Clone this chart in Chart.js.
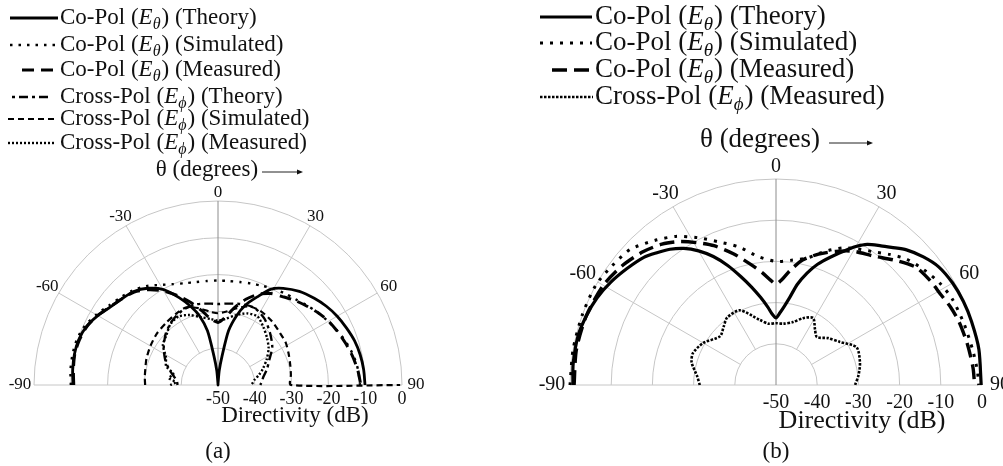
<!DOCTYPE html>
<html lang="en">
<head>
<meta charset="UTF-8" />
<title>Directivity patterns</title>
<script src="https://cdn.jsdelivr.net/npm/chart.js"></script>
<style>
  html, body { margin: 0; padding: 0; background: #fff; }
  #wrap { position: relative; width: 1003px; height: 466px; }
  canvas { position: absolute; top: 0; }
  #chartA { left: 0; }
  #chartB { left: 501px; }
</style>
</head>
<body>
<div id="wrap">
  <canvas id="chartA" width="501" height="466"></canvas>
  <canvas id="chartB" width="502" height="466"></canvas>
</div>
<script>
// ---- data: [theta (deg), directivity (dB)] ----

// (a)
const aCoTheory = [[-90,-10.6],[-84,-10.3],[-78,-10.1],[-72,-10.2],[-66,-10.9],[-60,-12.3],[-54,-13.9],[-48,-14.9],[-42,-15.8],[-36,-17.5],[-30,-20],[-24,-24],[-19,-27.5],[-15,-30.5],[-11,-35],[-8,-42],[-5,-46],[-2,-49.5],[0,-60],
  [2,-49.5],[5,-46],[8,-42],[11,-35],[15,-30.5],[19,-27],[24,-23.8],[29,-20.2],[34,-18.3],[41,-16.3],[48,-14.8],[54,-13.6],[60,-12.6],[66,-11.8],[72,-11],[78,-10.5],[84,-10.2],[90,-10.05]];
const aCoSimulated = [[-90,-10],[-84,-9.7],[-78,-9.6],[-72,-9.7],[-66,-10.4],[-60,-11.8],[-54,-13.3],[-48,-14.4],[-42,-15.4],[-36,-16.8],[-30,-18.6],[-24,-20],[-18,-20.9],[-12,-21.4],[-6,-21.6],[0,-21.6],
  [6,-21.6],[12,-21.4],[18,-21],[24,-20.5],[30,-19.8],[36,-19.2],[42,-18.6],[48,-17.6],[54,-16.5],[60,-15.4],[66,-14.3],[72,-13.2],[78,-12.3],[84,-11.7],[90,-11.4]];
const aCoMeasured = [[-90,-10.8],[-84,-10.5],[-78,-10.2],[-72,-10.4],[-66,-11],[-60,-12.2],[-54,-13.8],[-48,-15],[-42,-16],[-36,-18],[-30,-20.5],[-24,-23.5],[-18,-26.5],[-12,-29.5],[-6,-32],[0,-33],
  [6,-31.5],[12,-28.5],[18,-25.5],[24,-23],[30,-21.3],[36,-20.3],[42,-19],[48,-17.8],[54,-16.5],[60,-15.3],[66,-14.4],[72,-13.5],[78,-12.6],[84,-11.8],[90,-11.2]];
const aCrossTheory = [[-90,-39],[-85,-38.8],[-80,-38],[-72,-36],[-64,-34],[-55,-32],[-45,-30],[-35,-28.5],[-25,-27.5],[-15,-27.3],[-5,-27.8],[0,-28],
  [5,-27.8],[15,-27.2],[25,-26.8],[35,-28],[45,-30],[55,-32],[64,-34.5],[72,-36],[80,-37.5],[85,-38],[90,-38.5]];
const aCrossSimulated = [[-90,-30.2],[-84,-30],[-78,-29.8],[-70,-29.3],[-60,-28.8],[-50,-28.3],[-40,-28],[-30,-27.5],[-22,-27.2],[-14,-28.5],[-6,-30],[0,-30.5],
  [6,-30],[14,-28.5],[22,-27],[30,-26.8],[40,-27.3],[50,-28],[58,-28.3],[66,-29],[74,-29.6],[82,-30],[90,-30.2],[90,-0.5]];
const aCrossMeasured = [[-90,-37],[-86,-38.5],[-82,-36.5],[-76,-37.5],[-70,-35],[-62,-34],[-54,-31.5],[-46,-30.5],[-38,-29],[-30,-28.5],[-22,-29.5],[-14,-31],[-6,-32],[0,-32.5],
  [6,-32],[14,-30.5],[22,-29],[30,-28.5],[38,-30],[46,-31.5],[54,-33],[62,-35],[70,-37],[76,-38.5],[82,-40],[86,-40.5],[90,-41]];

// (b)
const bCoTheory = [[-90,-0.7],[-84,-0.5],[-76,-0.5],[-70,-1],[-64,-1.7],[-58,-2.8],[-52,-4.1],[-46,-5.4],[-42,-6.8],[-38,-8.2],[-34,-10],[-30,-12.4],[-26,-15.3],[-22,-18.7],[-18,-22.3],[-14,-25.5],[-10,-28.4],[-6,-31],[-3,-32.8],[0,-33.7],
  [3,-32.5],[6,-30.8],[9,-28.4],[12,-25],[15.5,-21.8],[19,-19],[23,-16.3],[27,-13.5],[30,-11.2],[33,-9.3],[37,-7.7],[40,-6.4],[44,-4.4],[49,-2.6],[54,-1.2],[60,-0.5],[66,-0.2],[72,-0.1],[80,0],[90,-0.2]];
const bCoSimulated = [[-90,0],[-80,0],[-70,0],[-61,0],[-54,-0.8],[-47,-1.7],[-40,-4.2],[-34,-6.5],[-28,-9.5],[-22,-12.5],[-15,-15.3],[-8,-18.5],[0,-20],
  [7,-19.5],[14,-18.2],[20,-15.5],[26,-13],[31,-11.5],[36,-10],[41,-8],[46,-6],[52,-4.5],[58,-3.2],[64,-2.4],[72,-2],[80,-1.5],[86,-1],[90,-0.8]];
const bCoMeasured = [[-90,-1],[-80,-0.8],[-70,-1],[-60,-1.6],[-52,-2.8],[-45,-4.3],[-39,-6],[-34,-8],[-29,-10.5],[-24,-13],[-18,-16.5],[-12,-20],[-7,-22.5],[-3,-24.5],[0,-25.5],
  [3,-24.5],[7,-22],[12,-19],[18,-16.6],[24,-14.5],[30,-12.5],[37,-10.8],[44,-8],[50,-5.6],[56,-4.8],[61,-4.4],[66,-3.6],[71,-3],[78,-2.5],[85,-2],[90,-1.8]];
const bCrossMeasured = [[-90,-31.5],[-84,-30.8],[-75,-28.8],[-69,-28.4],[-60,-29.6],[-49,-32],[-42,-31],[-36,-29.8],[-26,-29.8],[-14,-33.7],[-7,-35],[0,-35],
  [7,-35],[15,-34.2],[22,-32.5],[29,-31.4],[35,-33.5],[40.5,-34.7],[48,-33],[56,-31.3],[65,-28.4],[75,-28.9],[83,-29.8],[90,-30.8]];

// axes
const dbTicks = [-50, -40, -30, -20, -10, 0];
const angleTicks = [-90, -60, -30, 0, 30, 60, 90];
const DB_MIN = -50;

// legend text: [polarisation, field subscript, source]
const legendA = [['Co-Pol', 'θ', 'Theory'], ['Co-Pol', 'θ', 'Simulated'], ['Co-Pol', 'θ', 'Measured'],
                 ['Cross-Pol', 'ϕ', 'Theory'], ['Cross-Pol', 'ϕ', 'Simulated'], ['Cross-Pol', 'ϕ', 'Measured']];
const legendB = [['Co-Pol', 'θ', 'Theory'], ['Co-Pol', 'θ', 'Simulated'], ['Co-Pol', 'θ', 'Measured'],
                 ['Cross-Pol', 'ϕ', 'Measured']];

const SERIF = '"Liberation Serif", "Times New Roman", serif';

// theta measured from broadside, radius = level above the -50 dB floor
function polarPoints(pairs) {
  return pairs.map(([t, db]) => {
    const r = Math.max(0, db - DB_MIN);
    const a = t * Math.PI / 180;
    return { x: r * Math.sin(a), y: r * Math.cos(a) };
  });
}

function curve(pairs, width, dash, cap) {
  return {
    data: polarPoints(pairs),
    showLine: true,
    borderColor: '#000',
    borderWidth: width,
    borderDash: dash,
    borderCapStyle: cap || 'butt',
    pointRadius: 0,
    tension: 0.25,
    clip: false
  };
}

function drawLabel(ctx, x, y, parts, size) {
  const [pol, sub, kind] = parts;
  const normal = `${size}px ${SERIF}`;
  ctx.textAlign = 'left';
  ctx.textBaseline = 'middle';
  ctx.font = normal;
  let s = pol + ' (';
  ctx.fillText(s, x, y);
  x += ctx.measureText(s).width;
  ctx.font = `italic ${size}px ${SERIF}`;
  ctx.fillText('E', x, y);
  x += ctx.measureText('E').width;
  ctx.font = `italic ${Math.round(size * 0.7)}px ${SERIF}`;
  ctx.fillText(sub, x, y + size * 0.28);
  x += ctx.measureText(sub).width + 1;
  ctx.font = normal;
  ctx.fillText(') (' + kind + ')', x, y);
}

function framePlugin(cfg) {
  return {
    id: 'polarFrame',
    beforeDatasetsDraw(chart) {
      const { ctx, scales } = chart;
      const cx = scales.x.getPixelForValue(0);
      const cy = scales.y.getPixelForValue(0);
      const rad = db => scales.x.getPixelForValue(db - DB_MIN) - cx;
      const R = rad(0);
      ctx.save();
      ctx.lineWidth = 1;
      ctx.strokeStyle = '#c6c6c6';
      dbTicks.slice(1).forEach(v => {
        ctx.beginPath();
        ctx.arc(cx, cy, rad(v), Math.PI, 2 * Math.PI);
        ctx.stroke();
      });
      ctx.beginPath();
      ctx.moveTo(cx - R, cy);
      ctx.lineTo(cx + R, cy);
      ctx.stroke();
      const r0 = rad(dbTicks[1]);
      angleTicks.filter(t => t !== 0 && Math.abs(t) !== 90).forEach(t => {
        const a = t * Math.PI / 180;
        ctx.beginPath();
        ctx.moveTo(cx + r0 * Math.sin(a), cy - r0 * Math.cos(a));
        ctx.lineTo(cx + R * Math.sin(a), cy - R * Math.cos(a));
        ctx.stroke();
      });
      ctx.strokeStyle = '#8c8c8c';
      ctx.beginPath();
      ctx.moveTo(cx, cy);
      ctx.lineTo(cx, cy - R);
      ctx.stroke();
      ctx.restore();
    },
    afterDraw(chart) {
      const { ctx, scales } = chart;
      const cx = scales.x.getPixelForValue(0);
      const cy = scales.y.getPixelForValue(0);
      const rad = db => scales.x.getPixelForValue(db - DB_MIN) - cx;
      const R = rad(0);
      ctx.save();
      ctx.fillStyle = '#111';

      // angle labels round the rim, pushed further out towards the sides
      ctx.font = `${cfg.angleFont}px ${SERIF}`;
      ctx.textAlign = 'center';
      ctx.textBaseline = 'middle';
      angleTicks.forEach(t => {
        const a = t * Math.PI / 180;
        const rr = R + cfg.angleGap + 6 * Math.abs(Math.sin(a));
        ctx.fillText(String(t), cx + rr * Math.sin(a), cy - rr * Math.cos(a));
      });

      // dB scale under the right half of the baseline
      ctx.font = `${cfg.tickFont}px ${SERIF}`;
      dbTicks.forEach(v => ctx.fillText(String(v), cx + rad(v), cy + cfg.tickGap));
      ctx.font = `${cfg.titleFont}px ${SERIF}`;
      ctx.fillText('Directivity (dB)', cfg.title[0], cfg.title[1]);

      // theta direction label with arrow
      ctx.font = `${cfg.thetaFont}px ${SERIF}`;
      ctx.fillText('θ (degrees)', cfg.theta[0], cfg.theta[1]);
      const [ax0, ax1, ay] = cfg.arrow;
      ctx.strokeStyle = '#222';
      ctx.lineWidth = 1;
      ctx.beginPath();
      ctx.moveTo(ax0, ay);
      ctx.lineTo(ax1 - 4, ay);
      ctx.stroke();
      ctx.beginPath();
      ctx.moveTo(ax1, ay);
      ctx.lineTo(ax1 - 6, ay - 2.5);
      ctx.lineTo(ax1 - 6, ay + 2.5);
      ctx.closePath();
      ctx.fill();

      // caption
      ctx.font = `${cfg.captionFont}px ${SERIF}`;
      ctx.fillText(cfg.caption, cfg.captionPos[0], cfg.captionPos[1]);

      // legend
      cfg.legend.forEach((parts, i) => {
        const ds = chart.data.datasets[i];
        const [x0, x1] = cfg.samples[i];
        const y = cfg.rows[i];
        ctx.save();
        ctx.strokeStyle = '#000';
        ctx.lineWidth = ds.borderWidth;
        ctx.lineCap = ds.borderCapStyle;
        ctx.setLineDash(ds.borderDash);
        ctx.beginPath();
        ctx.moveTo(x0, y);
        ctx.lineTo(x1, y);
        ctx.stroke();
        ctx.restore();
        drawLabel(ctx, cfg.textX, y, parts, cfg.legendFont);
      });
      ctx.restore();
    }
  };
}

function makePolar(id, datasets, cfg) {
  const canvas = document.getElementById(id);
  const W = canvas.width, H = canvas.height;
  const k = cfg.pxPerDb;
  return new Chart(canvas, {
    type: 'scatter',
    data: { datasets },
    options: {
      responsive: false,
      animation: false,
      events: [],
      layout: { padding: 0 },
      plugins: { legend: { display: false }, tooltip: { enabled: false } },
      scales: {
        x: { type: 'linear', display: false, min: -cfg.cx / k, max: (W - cfg.cx) / k },
        y: { type: 'linear', display: false, min: -(H - cfg.cy) / k, max: cfg.cy / k }
      }
    },
    plugins: [framePlugin(cfg)]
  });
}

makePolar('chartA', [
  curve(aCoTheory, 2.8, []),
  curve(aCoSimulated, 2.4, [2.5, 6]),
  curve(aCoMeasured, 3, [12, 7]),
  curve(aCrossTheory, 2.4, [3, 4, 9, 4]),
  curve(aCrossSimulated, 2.2, [6, 4]),
  curve(aCrossMeasured, 2.4, [2, 2])
], {
  cx: 218, cy: 385, pxPerDb: 3.68,
  angleFont: 17, angleGap: 8,
  tickFont: 18, tickGap: 14,
  titleFont: 23, title: [295, 416],
  thetaFont: 23, theta: [207, 170], arrow: [262, 303, 172],
  captionFont: 23, caption: '(a)', captionPos: [218, 452],
  legend: legendA, legendFont: 23, textX: 60,
  rows: [18, 45, 70, 97, 119, 143],
  samples: [[10, 58], [10, 58], [22, 55], [12, 50], [8, 58], [8, 54]]
});

makePolar('chartB', [
  curve(bCoTheory, 3.2, []),
  curve(bCoSimulated, 3, [3, 7]),
  curve(bCoMeasured, 3.4, [15, 7]),
  curve(bCrossMeasured, 2.6, [2.5, 1.5])
], {
  cx: 275, cy: 385, pxPerDb: 4.12,
  angleFont: 20, angleGap: 12,
  tickFont: 20, tickGap: 18,
  titleFont: 26, title: [361, 421],
  thetaFont: 27, theta: [259, 140], arrow: [328, 372, 143],
  captionFont: 23, caption: '(b)', captionPos: [275, 452],
  legend: legendB, legendFont: 27, textX: 94,
  rows: [17, 43, 70, 97],
  samples: [[39, 91], [39, 91], [51, 89], [39, 92]]
});
</script>
</body>
</html>
